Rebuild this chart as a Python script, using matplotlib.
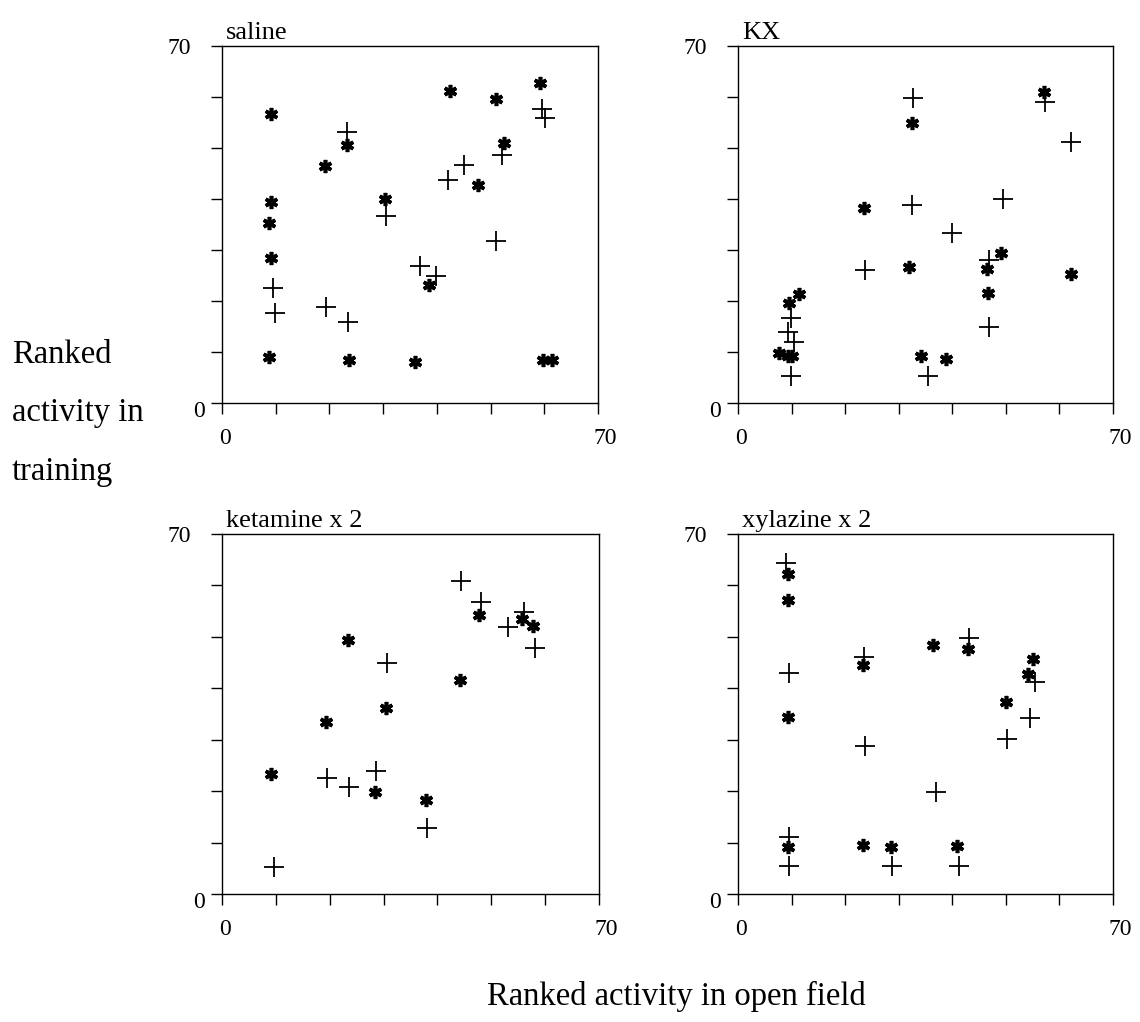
import matplotlib
matplotlib.use("Agg")
import matplotlib.pyplot as plt
from matplotlib.transforms import ScaledTranslation

plt.rcParams['font.family'] = ['Liberation Serif', 'DejaVu Serif']

titles = ["saline", "KX", "ketamine x 2", "xylazine x 2"]

# star series (x = ranked open field, y = ranked training)
saline_star_x = [9.2, 42.4, 51.0, 59.2, 52.5, 23.2, 19.2, 47.7, 9.2, 30.3, 8.8, 9.2, 38.6, 8.8, 23.7, 35.9, 59.8, 61.5]
saline_star_y = [56.6, 61.1, 59.6, 62.8, 50.9, 50.6, 46.4, 42.8, 39.4, 40.0, 35.2, 28.5, 23.1, 9.1, 8.5, 8.0, 8.5, 8.5]
saline_plus_x = [23.3, 59.5, 60.2, 52.2, 45.1, 42.1, 30.6, 51.1, 36.8, 39.8, 9.5, 9.9, 19.4, 23.4]
saline_plus_y = [53.1, 57.7, 55.8, 48.7, 46.7, 43.8, 36.7, 31.8, 26.8, 24.9, 22.6, 17.7, 18.9, 15.8]

kx_star_x = [57.1, 32.4, 23.5, 32.0, 49.1, 46.4, 46.7, 62.1, 11.3, 9.6, 7.6, 9.4, 10.1, 34.1, 38.9]
kx_star_y = [61.0, 55.0, 38.3, 26.6, 29.4, 26.3, 21.6, 25.3, 21.4, 19.6, 9.9, 9.2, 9.2, 9.2, 8.7]
kx_plus_x = [32.6, 57.3, 62.2, 32.5, 49.4, 39.9, 23.7, 46.9, 46.9, 9.9, 9.3, 10.4, 9.8, 35.5]
kx_plus_y = [59.9, 59.1, 51.1, 38.9, 40.0, 33.3, 26.0, 28.1, 14.9, 16.6, 14.0, 12.0, 5.3, 5.3]

ket_star_x = [23.4, 47.7, 55.7, 57.8, 44.1, 30.4, 19.3, 9.1, 28.4, 37.9]
ket_star_y = [49.3, 54.2, 53.5, 52.1, 41.7, 36.1, 33.5, 23.3, 19.9, 18.3]
ket_plus_x = [44.4, 48.1, 56.0, 53.1, 58.2, 30.6, 28.6, 19.5, 23.6, 38.0, 9.6]
ket_plus_y = [60.9, 56.8, 54.8, 52.0, 47.8, 45.0, 24.0, 22.5, 20.9, 12.9, 5.3]

xyl_star_x = [9.3, 9.3, 36.4, 42.9, 23.3, 55.0, 54.1, 50.1, 9.4, 9.3, 23.3, 28.5, 40.9]
xyl_star_y = [62.3, 57.2, 48.5, 47.6, 44.5, 45.7, 42.7, 37.3, 34.5, 9.2, 9.5, 9.2, 9.3]
xyl_plus_x = [9.0, 43.2, 23.6, 9.6, 55.4, 54.5, 50.2, 23.7, 36.9, 9.6, 9.6, 28.7, 41.2]
xyl_plus_y = [64.4, 49.7, 46.0, 42.9, 41.3, 34.2, 30.1, 28.8, 19.9, 11.0, 5.5, 5.5, 5.5]

tick_labels = ["0", "", "", "", "", "", "", "70"]

stars = [(saline_star_x, saline_star_y), (kx_star_x, kx_star_y),
         (ket_star_x, ket_star_y), (xyl_star_x, xyl_star_y)]
pluses = [(saline_plus_x, saline_plus_y), (kx_plus_x, kx_plus_y),
          (ket_plus_x, ket_plus_y), (xyl_plus_x, xyl_plus_y)]

W, H = 1140, 1022
fig = plt.figure(figsize=(W / 100, H / 100), dpi=100)

boxes = [(222, 46, 598, 403), (738, 46, 1113, 403),
         (222, 534, 599, 894), (738, 534, 1113, 894)]

def shift(lbl, dx_px, dy_px):
    lbl.set_transform(lbl.get_transform() +
                      ScaledTranslation(dx_px / 100, -dy_px / 100, fig.dpi_scale_trans))

for i, (l, t, r, b) in enumerate(boxes):
    ax = fig.add_axes([l / W, 1 - b / H, (r - l) / W, (b - t) / H])
    ax.set_xlim(0, 70)
    ax.set_ylim(0, 70)
    ax.set_xticks(range(0, 71, 10))
    ax.set_yticks(range(0, 71, 10))
    ax.set_xticklabels(tick_labels)
    ax.set_yticklabels(tick_labels)
    ax.tick_params(direction='out', length=8, width=1.0, labelsize=17, color='black')
    ax.tick_params(axis='x', pad=10)
    ax.tick_params(axis='y', pad=4)
    xl = ax.get_xticklabels()
    yl = ax.get_yticklabels()
    shift(xl[0], 3, 0)
    shift(xl[-1], 7, 0)
    shift(yl[0], 0, 6)
    shift(yl[-1], -14, 0)
    for s in ax.spines.values():
        s.set_linewidth(1.0)
    sx, sy = stars[i]
    px, py = pluses[i]
    ax.plot(px, py, linestyle='none', marker='+', markersize=15,
            markeredgewidth=1.3, color='black')
    ax.plot(sx, sy, linestyle='none', marker=(6, 2, 0), markersize=9.5,
            markeredgewidth=2.6, color='black')
    ax.set_title(titles[i], loc='left', fontsize=19, pad=5, x=0.01)

fig.text(12 / W, 1 - 355 / H, "Ranked", fontsize=23.5, va='center', ha='left')
fig.text(12 / W, 1 - 413 / H, "activity in", fontsize=23.5, va='center', ha='left')
fig.text(12 / W, 1 - 472 / H, "training", fontsize=23.5, va='center', ha='left')
fig.text(676 / W, 1 - 996 / H, "Ranked activity in open field", fontsize=23.5,
         va='center', ha='center')

fig.savefig("out.png", dpi=100)
